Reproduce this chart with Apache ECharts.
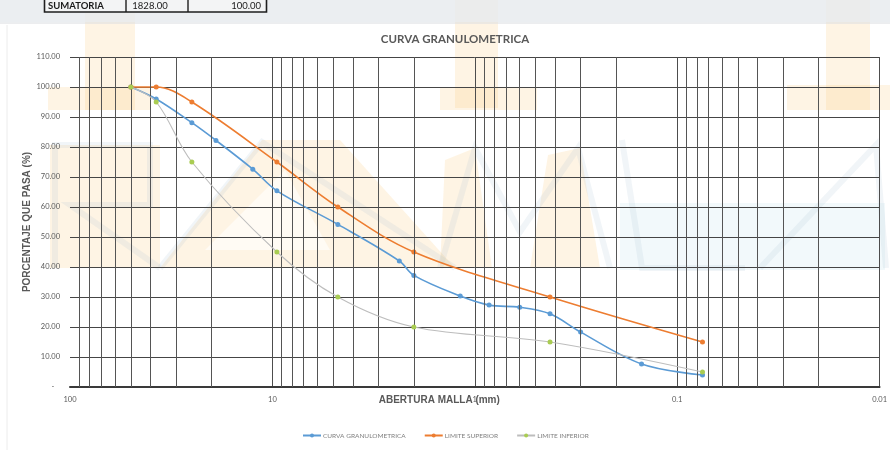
<!DOCTYPE html>
<html>
<head>
<meta charset="utf-8">
<script src="https://cdn.jsdelivr.net/npm/echarts@6/dist/echarts.min.js"></script>
<style>
  html, body { margin: 0; padding: 0; background: #ffffff; }
  #chart { width: 890px; height: 450px; }
</style>
</head>
<body>
<div id="chart"></div>
<script>
// Sieve openings (mm) and percent passing for the sample
const sieveMm = [50, 37.5, 25, 19, 12.5, 9.5, 4.75, 2.36, 2.0, 1.18, 0.85, 0.6, 0.425, 0.3, 0.15, 0.075];
const curvaGranulometrica = [100, 96.0, 88.1, 82.2, 72.6, 65.4, 54.2, 42.0, 37.2, 30.3, 27.3, 26.6, 24.4, 18.3, 7.7, 4.0];

// Specification band (upper / lower limits)
const limitMm = [50, 37.5, 25, 9.5, 4.75, 2.0, 0.425, 0.075];
const limiteSuperior = [100, 100, 95, 75, 60, 45, 30, 15];
const limiteInferior = [100, 95, 75, 45, 30, 20, 15, 5];

// Intermediate log-paper grid lines (2..9 of every decade)
const minorGridMm = [
  90, 80, 70, 60, 50, 40, 30, 20,
  9, 8, 7, 6, 5, 4, 3, 2,
  0.9, 0.8, 0.7, 0.6, 0.5, 0.4, 0.3, 0.2,
  0.09, 0.08, 0.07, 0.06, 0.05, 0.04, 0.03, 0.02
];

const seriesNames = ['CURVA GRANULOMETRICA', 'LIMITE SUPERIOR', 'LIMITE INFERIOR'];
const tableRow = ['SUMATORIA', '1828.00', '100.00'];

const pairs = (xs, ys) => xs.map((x, i) => [x, ys[i]]);

// Faint letterhead logo behind the sheet
const logoTint = 'rgba(252, 200, 120, 0.2)';
const logoBlue = 'rgba(175, 215, 230, 0.16)';
const logoStroke = 'rgba(160, 185, 205, 0.15)';
const logoShapes = [
  { fill: logoTint, pts: [[85, 0], [135, 0], [135, 110], [85, 110]] },
  { fill: logoTint, pts: [[48, 87], [150, 87], [150, 110], [48, 110]] },
  { fill: logoTint, pts: [[455, 0], [498, 0], [498, 108], [455, 108]] },
  { fill: logoTint, pts: [[440, 87], [537, 87], [537, 110], [440, 110]] },
  { fill: logoTint, pts: [[826, 0], [870, 0], [870, 110], [826, 110]] },
  { fill: logoTint, pts: [[787, 85], [890, 85], [890, 110], [787, 110]] },
  { fill: logoTint, pts: [[50, 145], [160, 145], [160, 268], [50, 268]] },
  { fill: logoTint, pts: [[160, 268], [262, 140], [340, 140], [455, 268]] },
  { fill: 'rgba(255,255,255,0.6)', pts: [[205, 250], [285, 170], [330, 250]] },
  { fill: logoTint, pts: [[440, 268], [445, 160], [475, 148], [492, 268]] },
  { fill: logoTint, pts: [[530, 268], [548, 155], [580, 148], [600, 268]] },
  { fill: logoBlue, pts: [[620, 203], [885, 203], [885, 270], [620, 270]] }
];
const logoLines = [
  [[160, 268], [262, 142], [455, 268]],
  [[440, 268], [475, 148], [520, 232], [578, 148], [610, 268]],
  [[622, 140], [642, 268], [745, 268]],
  [[760, 268], [876, 145], [886, 268]],
  [[55, 268], [55, 145], [150, 145], [150, 205], [70, 205], [160, 268]]
];

const graphics = [];
logoShapes.forEach(s => graphics.push({
  type: 'polygon', z: -10, silent: true,
  shape: { points: s.pts }, style: { fill: s.fill }
}));
logoLines.forEach(l => graphics.push({
  type: 'polyline', z: -9, silent: true,
  shape: { points: l }, style: { stroke: logoStroke, lineWidth: 6, fill: null }
}));

// Spreadsheet strip with the totals row above the chart
graphics.push(
  { type: 'rect', z: -8, silent: true, shape: { x: 0, y: 0, width: 890, height: 22 },
    style: { fill: 'rgba(230, 234, 238, 0.8)' } },
  { type: 'line', z: -7, silent: true, shape: { x1: 0, y1: 23, x2: 890, y2: 23 },
    style: { stroke: '#d9dce0', lineWidth: 1 } },
  { type: 'line', z: -7, silent: true, shape: { x1: 7, y1: 25, x2: 7, y2: 450 },
    style: { stroke: '#ececec', lineWidth: 1 } },
  { type: 'rect', z: 20, silent: true, shape: { x: 44.5, y: -3, width: 222, height: 15 },
    style: { fill: '#f3f4f5', stroke: '#1e1e1e', lineWidth: 1.6 } },
  { type: 'line', z: 21, silent: true, shape: { x1: 126, y1: 0, x2: 126, y2: 12 },
    style: { stroke: '#1e1e1e', lineWidth: 1.4 } },
  { type: 'line', z: 21, silent: true, shape: { x1: 188, y1: 0, x2: 188, y2: 12 },
    style: { stroke: '#1e1e1e', lineWidth: 1.4 } },
  { type: 'text', z: 22, silent: true, x: 48, y: 5.5,
    style: { text: tableRow[0], fontSize: 9.5, fontWeight: 'bold', fontFamily: 'Lato',
             fill: '#1a1a1a', align: 'left', verticalAlign: 'middle' } },
  { type: 'text', z: 22, silent: true, x: 150, y: 5.5,
    style: { text: tableRow[1], fontSize: 9.5, fontFamily: 'Lato',
             fill: '#1a1a1a', align: 'center', verticalAlign: 'middle' } },
  { type: 'text', z: 22, silent: true, x: 261, y: 5.5,
    style: { text: tableRow[2], fontSize: 9.5, fontFamily: 'Lato',
             fill: '#1a1a1a', align: 'right', verticalAlign: 'middle' } }
);

const chart = echarts.init(document.getElementById('chart'), null, { renderer: 'canvas' });

chart.setOption({
  animation: false,
  backgroundColor: '#ffffff',
  textStyle: { fontFamily: 'Lato' },
  graphic: graphics,
  title: {
    text: 'CURVA GRANULOMETRICA',
    left: 455, top: 33, padding: 0, textAlign: 'center',
    textStyle: { fontSize: 11.5, fontWeight: 'bold', color: '#595959', fontFamily: 'Lato' }
  },
  legend: {
    data: seriesNames,
    left: 302, top: 432, padding: 0,
    itemWidth: 18, itemHeight: 5, itemGap: 18,
    textStyle: { fontSize: 6.5, color: '#7f7f7f', fontFamily: 'Lato', padding: [0, 0, 0, -3] }
  },
  grid: { left: 70, top: 57, width: 815, height: 330, containLabel: false },
  xAxis: {
    type: 'log', logBase: 10, min: 0.01, max: 100, inverse: true,
    axisLine: { show: true, onZero: false, lineStyle: { color: '#3a3a3a', width: 2 } },
    axisTick: { show: false },
    axisLabel: {
      fontSize: 7.5, color: '#595959', margin: 9, fontFamily: 'Lato',
      formatter: v => String(+(+v).toPrecision(3))
    },
    splitLine: { show: true, showMaxLine: false, lineStyle: { color: '#4d4d4d', width: 1 } },
    name: 'ABERTURA MALLA (mm)', nameLocation: 'middle', nameGap: 8,
    nameMoveOverlap: false,
    nameTextStyle: {
      fontSize: 10, fontWeight: 'bold', color: '#595959', fontFamily: 'Liberation Sans',
      padding: [0, 71, 0, 0]
    }
  },
  yAxis: {
    type: 'value', min: 0, max: 110, interval: 10,
    axisLine: { show: false }, axisTick: { show: false },
    axisLabel: {
      fontSize: 7.5, color: '#595959', margin: 10, fontFamily: 'Lato',
      formatter: v => (v === 0 ? '-   ' : v.toFixed(2))
    },
    splitLine: { lineStyle: { color: '#454545', width: 1 } },
    name: 'PORCENTAJE QUE PASA (%)', nameLocation: 'middle', nameGap: 38,
    nameMoveOverlap: false,
    nameTextStyle: { fontSize: 10, fontWeight: 'bold', color: '#595959', fontFamily: 'Liberation Sans' }
  },
  series: [
    {
      name: 'grid', type: 'line', data: [], silent: true, z: 1,
      markLine: {
        silent: true, symbol: ['none', 'none'], animation: false,
        label: { show: false },
        lineStyle: { type: 'solid', color: '#555555', width: 1 },
        emphasis: { disabled: true },
        data: minorGridMm.map(v => ({ xAxis: v }))
      }
    },
    {
      name: seriesNames[0], type: 'line', z: 3,
      data: pairs(sieveMm, curvaGranulometrica),
      smooth: 0.35, symbol: 'circle', symbolSize: 5,
      lineStyle: { color: '#5b9bd5', width: 1.6 },
      itemStyle: { color: '#5b9bd5' }
    },
    {
      name: seriesNames[1], type: 'line', z: 4,
      data: pairs(limitMm, limiteSuperior),
      smooth: 0.35, symbol: 'circle', symbolSize: 5,
      lineStyle: { color: '#ed7d31', width: 1.6 },
      itemStyle: { color: '#ed7d31' }
    },
    {
      name: seriesNames[2], type: 'line', z: 5,
      data: pairs(limitMm, limiteInferior),
      smooth: 0.35, symbol: 'circle', symbolSize: 5,
      lineStyle: { color: '#bdbdbd', width: 1.1 },
      itemStyle: { color: '#a9cc52' }
    }
  ]
});
</script>
</body>
</html>
